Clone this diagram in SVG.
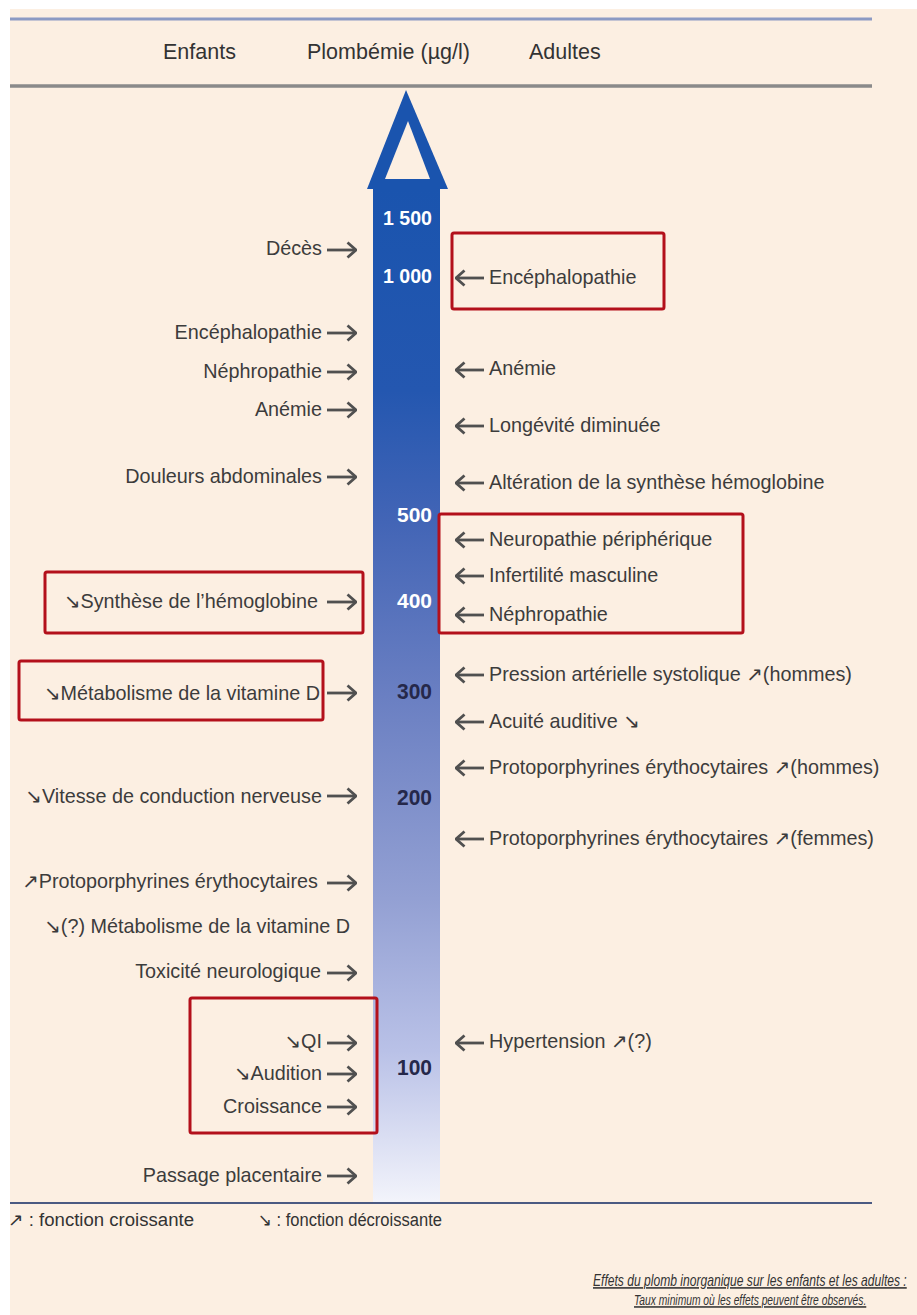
<svg xmlns="http://www.w3.org/2000/svg" width="917" height="1315" viewBox="0 0 917 1315">
<defs>
<style>
.lbl{font-family:"Liberation Sans",Arial,"DejaVu Sans",sans-serif;font-size:19.8px;fill:#3c3c3c}
.l{text-anchor:end}
.hdr{font-family:"Liberation Sans",Arial,sans-serif;font-size:21.5px;fill:#333}
.numw{font-family:"Liberation Sans",Arial,sans-serif;font-size:21px;font-weight:bold;fill:#ffffff;text-anchor:end}
.numd{font-family:"Liberation Sans",Arial,sans-serif;font-size:22px;font-weight:bold;fill:#25284a;text-anchor:end}
.leg{font-family:"Liberation Sans",Arial,"DejaVu Sans",sans-serif;font-size:18px;fill:#333}
.cap{font-family:"Liberation Sans",Arial,sans-serif;font-style:italic;fill:#333;text-decoration:underline}
.box{fill:none;stroke:#b3101b;stroke-width:3}
.arr{stroke:#505050;stroke-width:2.8;fill:none;marker-end:url(#head)}
</style>
<marker id="head" viewBox="0 0 11 18" refX="10" refY="9" markerWidth="11" markerHeight="18" markerUnits="userSpaceOnUse" orient="auto">
<path d="M1.5,1.5 L10,9 L1.5,16.5" fill="none" stroke="#505050" stroke-width="2.8" stroke-linejoin="miter"/>
</marker>
<linearGradient id="barg" x1="0" y1="188" x2="0" y2="1203" gradientUnits="userSpaceOnUse">
<stop offset="0" stop-color="#1a54ae"/>
<stop offset="0.2" stop-color="#2457b0"/>
<stop offset="0.33" stop-color="#4365b6"/>
<stop offset="0.5" stop-color="#6a7fc2"/>
<stop offset="0.7" stop-color="#93a0d3"/>
<stop offset="0.85" stop-color="#b9c1e7"/>
<stop offset="1" stop-color="#f3f4fb"/>
</linearGradient>
</defs>

<rect x="0" y="0" width="917" height="1315" fill="#ffffff"/>
<rect x="10" y="9" width="907" height="1306" fill="#fcefe2"/>

<g id="rules">
<line x1="10" y1="19" x2="872" y2="19" stroke="#8c9ac3" stroke-width="3"/>
<line x1="10" y1="86" x2="872" y2="86" stroke="#8a8a8a" stroke-width="3.5"/>
<line x1="10" y1="1203" x2="872" y2="1203" stroke="#4b5a82" stroke-width="2"/>
</g>

<g id="header">
<text class="hdr" x="163" y="59">Enfants</text>
<text class="hdr" x="307" y="59">Plombémie (µg/l)</text>
<text class="hdr" x="529" y="59">Adultes</text>
</g>

<g id="scale">
<rect x="373" y="188" width="67" height="1014" fill="url(#barg)"/>
<polygon points="406,90 367,189 448,189" fill="#1a54ae"/>
<polygon points="408,121 385,179 430,179" fill="#fcefe2"/>
<text class="numw" x="432" y="225" textLength="49" lengthAdjust="spacingAndGlyphs">1 500</text>
<text class="numw" x="432" y="283" textLength="49" lengthAdjust="spacingAndGlyphs">1 000</text>
<text class="numw" x="432" y="522">500</text>
<text class="numw" x="432" y="608">400</text>
<text class="numd" x="432" y="699" textLength="35" lengthAdjust="spacingAndGlyphs">300</text>
<text class="numd" x="432" y="805" textLength="35" lengthAdjust="spacingAndGlyphs">200</text>
<text class="numd" x="432" y="1075" textLength="35" lengthAdjust="spacingAndGlyphs" font-weight="normal">100</text>
</g>

<g id="children">
<g id="c-deces"><text class="lbl l" x="322" y="255">Décès</text></g>
<g id="c-encephalo"><text class="lbl l" x="322" y="339">Encéphalopathie</text></g>
<g id="c-nephro"><text class="lbl l" x="322" y="378">Néphropathie</text></g>
<g id="c-anemie"><text class="lbl l" x="322" y="416">Anémie</text></g>
<g id="c-douleurs"><text class="lbl l" x="322" y="483">Douleurs abdominales</text></g>
<g id="c-synthese"><text class="lbl l" x="318" y="608">↘Synthèse de l’hémoglobine</text></g>
<g id="c-metab"><text class="lbl l" x="320" y="700">↘Métabolisme de la vitamine D</text></g>
<g id="c-vitesse"><text class="lbl l" x="322" y="803">↘Vitesse de conduction nerveuse</text></g>
<g id="c-proto"><text class="lbl l" x="318" y="888">↗Protoporphyrines érythocytaires</text></g>
<g id="c-metab2"><text class="lbl l" x="350" y="933">↘(?) Métabolisme de la vitamine D</text></g>
<g id="c-toxic"><text class="lbl l" x="321" y="978">Toxicité neurologique</text></g>
<g id="c-qi"><text class="lbl l" x="322" y="1048">↘QI</text></g>
<g id="c-audition"><text class="lbl l" x="322" y="1080">↘Audition</text></g>
<g id="c-croissance"><text class="lbl l" x="322" y="1113">Croissance</text></g>
<g id="c-passage"><text class="lbl l" x="322" y="1182">Passage placentaire</text></g>
</g>

<g id="adults">
<g id="a-encephalo"><text class="lbl" x="489" y="284">Encéphalopathie</text></g>
<g id="a-anemie"><text class="lbl" x="489" y="375">Anémie</text></g>
<g id="a-longevite"><text class="lbl" x="489" y="432">Longévité diminuée</text></g>
<g id="a-alteration"><text class="lbl" x="489" y="489">Altération de la synthèse hémoglobine</text></g>
<g id="a-neuropathie"><text class="lbl" x="489" y="546">Neuropathie périphérique</text></g>
<g id="a-infertilite"><text class="lbl" x="489" y="582">Infertilité masculine</text></g>
<g id="a-nephro"><text class="lbl" x="489" y="621">Néphropathie</text></g>
<g id="a-pression"><text class="lbl" x="489" y="681">Pression artérielle systolique ↗(hommes)</text></g>
<g id="a-acuite"><text class="lbl" x="489" y="728">Acuité auditive ↘</text></g>
<g id="a-proto-h"><text class="lbl" x="489" y="774">Protoporphyrines érythocytaires ↗(hommes)</text></g>
<g id="a-proto-f"><text class="lbl" x="489" y="845">Protoporphyrines érythocytaires ↗(femmes)</text></g>
<g id="a-hyper"><text class="lbl" x="489" y="1048">Hypertension ↗(?)</text></g>
</g>

<g id="connectors">
<line class="arr" x1="327" y1="250" x2="356" y2="250"/>
<line class="arr" x1="327" y1="333" x2="356" y2="333"/>
<line class="arr" x1="327" y1="372" x2="356" y2="372"/>
<line class="arr" x1="327" y1="410" x2="356" y2="410"/>
<line class="arr" x1="327" y1="477" x2="356" y2="477"/>
<line class="arr" x1="327" y1="602" x2="356" y2="602"/>
<line class="arr" x1="327" y1="693" x2="356" y2="693"/>
<line class="arr" x1="327" y1="796" x2="356" y2="796"/>
<line class="arr" x1="327" y1="883" x2="356" y2="883"/>
<line class="arr" x1="327" y1="973" x2="356" y2="973"/>
<line class="arr" x1="327" y1="1043" x2="356" y2="1043"/>
<line class="arr" x1="327" y1="1074" x2="356" y2="1074"/>
<line class="arr" x1="327" y1="1107" x2="356" y2="1107"/>
<line class="arr" x1="327" y1="1176" x2="356" y2="1176"/>

<line class="arr" x1="484" y1="278" x2="456" y2="278"/>
<line class="arr" x1="484" y1="370" x2="456" y2="370"/>
<line class="arr" x1="484" y1="426" x2="456" y2="426"/>
<line class="arr" x1="484" y1="483" x2="456" y2="483"/>
<line class="arr" x1="484" y1="540" x2="456" y2="540"/>
<line class="arr" x1="484" y1="576" x2="456" y2="576"/>
<line class="arr" x1="484" y1="615" x2="456" y2="615"/>
<line class="arr" x1="484" y1="675" x2="456" y2="675"/>
<line class="arr" x1="484" y1="722" x2="456" y2="722"/>
<line class="arr" x1="484" y1="768" x2="456" y2="768"/>
<line class="arr" x1="484" y1="839" x2="456" y2="839"/>
<line class="arr" x1="484" y1="1043" x2="456" y2="1043"/>
</g>

<g id="highlights">
<rect class="box" x="452" y="233" width="212" height="76" rx="2"/>
<rect class="box" x="439" y="514" width="304" height="119" rx="2"/>
<rect class="box" x="45" y="572" width="318" height="61" rx="2"/>
<rect class="box" x="19" y="661" width="304" height="59" rx="2"/>
<rect class="box" x="190" y="998" width="187" height="135" rx="2"/>
</g>

<g id="legend">
<text class="leg" x="8" y="1226" textLength="186" lengthAdjust="spacingAndGlyphs">↗ : fonction croissante</text>
<text class="leg" x="258" y="1226" textLength="184" lengthAdjust="spacingAndGlyphs">↘ : fonction décroissante</text>
</g>

<g id="caption">
<text class="cap" transform="translate(593,1286) scale(1,1.3)" font-size="12.1">Effets du plomb inorganique sur les enfants et les adultes :</text>
<text class="cap" transform="translate(634,1305) scale(1,1.5)" font-size="10.3">Taux minimum où les effets peuvent être observés.</text>
</g>
</svg>
